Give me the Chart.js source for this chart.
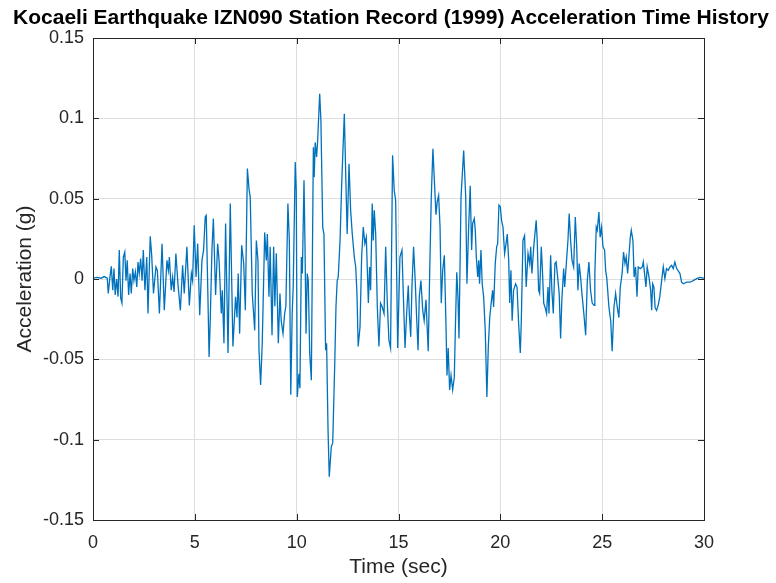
<!DOCTYPE html>
<html>
<head>
<meta charset="utf-8">
<script src="https://cdn.jsdelivr.net/npm/chart.js@4.4.1/dist/chart.umd.min.js"></script>
<style>
  html, body { margin: 0; padding: 0; background: #fff; }
  #wrap { width: 776px; height: 583px; }
</style>
</head>
<body>
<div id="wrap"><canvas id="accChart" width="776" height="583"></canvas></div>
<script>
// Kocaeli 1999, IZN090 (sec, g)
const time = [
  0, 0.2, 0.4, 0.55, 0.7, 0.75, 0.83, 0.90, 0.97, 1.03, 1.09, 1.16, 1.23, 1.29, 1.36, 1.42, 1.49, 1.56, 1.62, 1.68,
  1.75, 1.82, 1.88, 1.95, 2.01, 2.08, 2.15, 2.21, 2.27, 2.34, 2.41, 2.47, 2.55, 2.64, 2.70, 2.81, 2.88, 2.97, 3.09, 3.16,
  3.26, 3.39, 3.50, 3.63, 3.70, 3.75, 3.84, 3.91, 3.98, 4.07, 4.17, 4.29, 4.40, 4.48, 4.61, 4.73, 4.83, 4.89, 4.97, 5.06,
  5.14, 5.24, 5.35, 5.43, 5.51, 5.56, 5.63, 5.70, 5.76, 5.84, 5.91, 6.02, 6.12, 6.19, 6.30, 6.35, 6.43, 6.51, 6.63, 6.74,
  6.87, 7.00, 7.07, 7.13, 7.20, 7.30, 7.40, 7.48, 7.58, 7.66, 7.72, 7.82, 7.94, 8.02, 8.10, 8.15, 8.23, 8.31, 8.43, 8.51,
  8.56, 8.64, 8.70, 8.79, 8.87, 8.93, 9.00, 9.10, 9.18, 9.24, 9.33, 9.41, 9.47, 9.57, 9.64, 9.71, 9.78, 9.83, 9.93, 9.98,
  10.03, 10.11, 10.16, 10.23, 10.28, 10.36, 10.41, 10.46, 10.52, 10.57, 10.64, 10.72, 10.82, 10.86, 10.91, 10.98, 11.03, 11.13, 11.19, 11.28,
  11.34, 11.42, 11.47, 11.54, 11.60, 11.70, 11.77, 11.87, 11.93, 11.99, 12.04, 12.13, 12.21, 12.34, 12.42, 12.48, 12.57, 12.65, 12.73, 12.83,
  12.90, 12.96, 13.02, 13.11, 13.19, 13.27, 13.35, 13.42, 13.52, 13.58, 13.63, 13.71, 13.76, 13.81, 13.88, 13.96, 14.04, 14.12, 14.20, 14.29,
  14.37, 14.45, 14.53, 14.61, 14.71, 14.79, 14.86, 14.96, 15.07, 15.17, 15.23, 15.32, 15.40, 15.48, 15.53, 15.60, 15.66, 15.74, 15.82, 15.89,
  15.96, 16.02, 16.10, 16.19, 16.26, 16.35, 16.40, 16.46, 16.54, 16.61, 16.69, 16.77, 16.84, 16.90, 16.97, 17.04, 17.10, 17.17, 17.25, 17.33,
  17.38, 17.44, 17.51, 17.58, 17.66, 17.74, 17.79, 17.86, 17.92, 17.97, 18.07, 18.20, 18.30, 18.36, 18.44, 18.52, 18.59, 18.64, 18.72, 18.77,
  18.82, 18.89, 18.94, 18.98, 19.05, 19.11, 19.18, 19.26, 19.34, 19.41, 19.48, 19.55, 19.62, 19.67, 19.75, 19.82, 19.87, 19.93, 20.00, 20.06,
  20.13, 20.21, 20.28, 20.34, 20.41, 20.46, 20.52, 20.58, 20.65, 20.75, 20.82, 20.90, 20.98, 21.03, 21.11, 21.19, 21.27, 21.36, 21.44, 21.49,
  21.55, 21.64, 21.76, 21.81, 21.88, 21.93, 22.01, 22.06, 22.13, 22.19, 22.27, 22.34, 22.39, 22.47, 22.53, 22.60, 22.68, 22.74, 22.83, 22.89,
  22.96, 23.02, 23.11, 23.16, 23.24, 23.32, 23.38, 23.45, 23.52, 23.60, 23.68, 23.75, 23.81, 23.87, 23.94, 24.02, 24.10, 24.19, 24.27, 24.35,
  24.43, 24.51, 24.60, 24.64, 24.71, 24.76, 24.84, 24.90, 24.97, 25.04, 25.12, 25.17, 25.23, 25.33, 25.42, 25.49, 25.58, 25.66, 25.74, 25.82,
  25.89, 25.98, 26.05, 26.12, 26.18, 26.25, 26.31, 26.38, 26.43, 26.51, 26.57, 26.64, 26.71, 26.77, 26.87, 26.97, 27.02, 27.10, 27.15, 27.21,
  27.30, 27.38, 27.43, 27.48, 27.54, 27.60, 27.67, 27.75, 27.83, 27.92, 28.00, 28.08, 28.16, 28.24, 28.33, 28.41, 28.49, 28.57, 28.66, 28.82,
  28.90, 28.98, 29.15, 29.31, 29.47, 29.64, 29.80, 29.96, 30.00
];
const accel = [
  0.0005, 0.001, 0.0005, 0.0015, 0.0005, -0.009, 0.001, 0.0079, -0.007, 0.0065, -0.010, 0.0, -0.011, 0.018, -0.012, -0.015, 0.0137, 0.0168, -0.001, 0.0116,
  -0.010, 0.0034, -0.009, 0.0065, -0.001, 0.0044, -0.005, 0.0106, 0.0034, 0.0127, -0.001, 0.018, -0.007, 0.0137, -0.0215, 0.0266, 0.015, -0.009, 0.0075, 0.0054,
  -0.0215, 0.022, -0.0195, 0.0116, 0.0054, 0.0137, -0.007, 0.0012, -0.008, 0.0158, -0.003, -0.0195, 0.0085, -0.009, 0.02, -0.0164, 0.0034, -0.001, 0.0334, 0.0012,
  0.022, -0.0226, 0.0116, 0.018, 0.0386, 0.0396, -0.003, -0.0485, -0.024, 0.018, 0.0376, -0.010, 0.022, 0.0116, -0.0215, -0.007, -0.040, 0.0345, -0.046, 0.047,
  -0.042, -0.011, -0.024, 0.0034, -0.034, 0.021, 0.0096, -0.0195, 0.0687, 0.056, 0.051, -0.009, -0.032, 0.024, 0.0116, -0.0443, -0.066, -0.040, 0.029, 0.0116,
  0.028, -0.011, 0.02, -0.035, 0.02, -0.017, 0.016, -0.040, -0.009, -0.026, -0.034, -0.0215, -0.017, 0.047, 0.024, -0.072, -0.0215, -0.005, 0.0728, 0.055,
  -0.0734, -0.059, -0.068, 0.0137, 0.0034, 0.0614, 0.02, -0.034, 0.0034, -0.001, -0.046, -0.063, 0.082, 0.0634, 0.085, 0.076, 0.086, 0.1153, 0.0987, 0.0323,
  0.028, -0.0443, -0.040, -0.094, -0.123, -0.1045, -0.102, -0.0526, -0.0174, -0.001, 0.0012, 0.024, 0.059, 0.1028, 0.059, 0.028, 0.0717, 0.0427, 0.028, 0.0137,
  0.0075, -0.009, -0.042, -0.030, 0.0137, 0.0323, 0.022, 0.026, -0.015, 0.0075, -0.007, 0.047, 0.024, 0.0427, 0.028, -0.0174, -0.042, -0.015, -0.0174, -0.0215,
  0.02, -0.015, -0.038, -0.043, 0.077, 0.055, 0.049, -0.043, 0.0137, 0.018, -0.007, -0.043, -0.0215, -0.004, -0.0215, -0.036, -0.005, 0.02, -0.001, -0.024,
  -0.0443, -0.011, -0.001, -0.0195, -0.026, -0.013, -0.028, -0.045, 0.0096, 0.051, 0.081, 0.059, 0.040, 0.048, 0.052, 0.0323, -0.015, 0.0054, 0.0148, -0.028,
  -0.06, -0.043, -0.069, -0.06, -0.069, -0.061, -0.032, 0.0042, -0.011, -0.037, 0.051, 0.080, 0.051, -0.003, 0.0303, 0.058, 0.018, 0.0345, 0.0376, 0.0303,
  0.0137, 0.0012, 0.0116, -0.003, 0.018, -0.003, -0.011, -0.032, -0.0734, -0.042, -0.024, -0.015, -0.007, -0.0174, 0.0096, 0.02, 0.022, 0.046, 0.045, 0.0365,
  0.0323, 0.0158, 0.022, 0.028, 0.0116, -0.015, 0.0054, -0.026, -0.007, -0.003, -0.005, -0.028, -0.046, -0.026, 0.024, 0.027, -0.005, 0.0158, 0.0096, 0.02,
  0.0034, 0.02, 0.0365, 0.024, -0.007, -0.009, 0.02, 0.0075, -0.015, -0.0174, -0.0215, -0.005, -0.0215, 0.0148, -0.007, -0.0215, 0.0096, 0.0106, -0.001, -0.009,
  -0.037, -0.013, 0.0065, -0.005, 0.0096, 0.024, 0.0407, 0.024, 0.0116, 0.0075, 0.0386, 0.02, -0.007, 0.0096, 0.0012, -0.011, -0.0215, -0.035, -0.001, 0.0106,
  -0.007, -0.015, -0.0164, 0.0034, 0.0323, 0.0303, 0.0417, 0.026, 0.0323, 0.02, 0.018, 0.0054, 0.0002, -0.0174, -0.026, -0.045, -0.0174, -0.009, -0.0174, -0.024,
  -0.005, 0.0034, 0.0168, 0.0096, 0.0137, 0.0034, 0.0137, 0.026, 0.0303, 0.024, 0.0012, 0.0075, -0.011, 0.0075, 0.0065, 0.0075, 0.0106, 0.0012, -0.005, 0.0075,
  0.0012, -0.007, -0.0195, -0.003, -0.005, -0.018, -0.0195, -0.0164, -0.011, -0.001, 0.0075, 0.0002, 0.0065, 0.0054, 0.0075, 0.0085, 0.0065, 0.0106, 0.0065, 0.0034,
  -0.002, -0.003, -0.002, -0.002, -0.001, 0.0002, 0.001, 0.0006, 0.0005
];

const xTicks = [0, 5, 10, 15, 20, 25, 30];
const yTicks = [-0.15, -0.1, -0.05, 0, 0.05, 0.1, 0.15];

const titleText = 'Kocaeli Earthquake IZN090 Station Record (1999) Acceleration Time History';
const FONT = '"Liberation Sans", Arial, Helvetica, sans-serif';

// title + MATLAB style box with inward ticks
const matlabAxes = {
  id: 'matlabAxes',
  afterDatasetsDraw(chart) {
    const { ctx, chartArea: a, scales: { x, y } } = chart;
    ctx.save();
    ctx.strokeStyle = '#262626';
    ctx.lineWidth = 1;
    ctx.beginPath();
    xTicks.forEach(v => {
      const px = Math.round(x.getPixelForValue(v)) + 0.5;
      ctx.moveTo(px, a.bottom); ctx.lineTo(px, a.bottom - 6);
      ctx.moveTo(px, a.top); ctx.lineTo(px, a.top + 6);
    });
    yTicks.forEach(v => {
      const py = Math.round(y.getPixelForValue(v)) + 0.5;
      ctx.moveTo(a.left, py); ctx.lineTo(a.left + 6, py);
      ctx.moveTo(a.right, py); ctx.lineTo(a.right - 6, py);
    });
    ctx.stroke();
    ctx.strokeRect(Math.round(a.left) + 0.5, Math.round(a.top) + 0.5,
      Math.round(a.right - a.left), Math.round(a.bottom - a.top));
    ctx.restore();
  },
  afterDraw(chart) {
    const ctx = chart.ctx;
    ctx.save();
    ctx.fillStyle = '#000';
    ctx.font = 'bold 21px ' + FONT;
    ctx.textAlign = 'center';
    ctx.textBaseline = 'alphabetic';
    ctx.fillText(titleText, 391, 24);
    ctx.restore();
  }
};

const ctx = document.getElementById('accChart').getContext('2d');
new Chart(ctx, {
  type: 'line',
  data: {
    datasets: [{
      data: time.map((t, i) => ({ x: t, y: accel[i] })),
      borderColor: '#0072BD',
      borderWidth: 1.3,
      pointRadius: 0,
      tension: 0,
      fill: false
    }]
  },
  options: {
    responsive: false,
    animation: false,
    layout: { padding: { top: 38, right: 72, left: 0, bottom: 0 } },
    plugins: {
      legend: { display: false },
      tooltip: { enabled: false }
    },
    scales: {
      x: {
        type: 'linear',
        min: 0,
        max: 30,
        afterFit: s => { s.height = 63; },
        afterBuildTicks: s => { s.ticks = xTicks.map(v => ({ value: v })); },
        grid: { color: '#dedede', drawTicks: false },
        border: { display: false },
        ticks: {
          padding: 12,
          color: '#262626',
          font: { family: FONT, size: 18 },
          callback: v => String(v)
        },
        title: {
          display: true,
          text: 'Time (sec)',
          color: '#262626',
          font: { family: FONT, size: 21 },
          padding: { top: 0, bottom: 3 }
        }
      },
      y: {
        min: -0.15,
        max: 0.15,
        afterFit: s => { s.width = 93; },
        afterBuildTicks: s => { s.ticks = yTicks.map(v => ({ value: v })); },
        grid: { color: '#dedede', drawTicks: false },
        border: { display: false },
        ticks: {
          padding: 9,
          color: '#262626',
          font: { family: FONT, size: 18 },
          callback: v => String(v)
        },
        title: {
          display: true,
          text: 'Acceleration (g)',
          color: '#262626',
          font: { family: FONT, size: 21 },
          padding: { top: 13, bottom: 0 }
        }
      }
    }
  },
  plugins: [matlabAxes]
});
</script>
</body>
</html>
